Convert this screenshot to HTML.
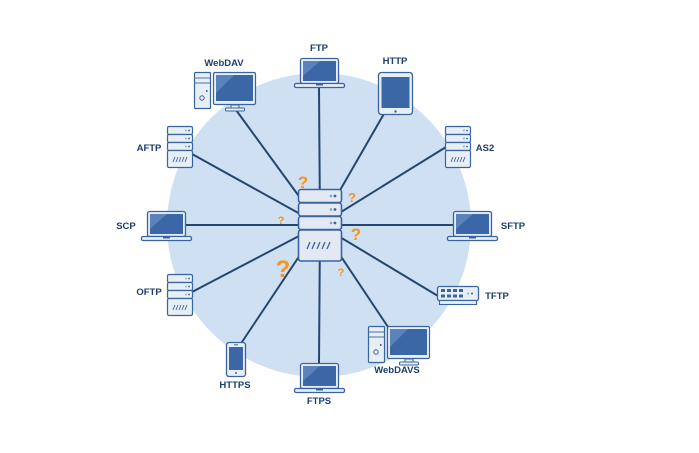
<!DOCTYPE html>
<html><head><meta charset="utf-8"><style>
html,body{margin:0;padding:0;background:#fff;}
svg{display:block;font-family:"Liberation Sans",sans-serif;}
.l{font-size:9.5px;font-weight:bold;fill:#1d3e6e;}
.q{font-weight:bold;fill:#f7941d;font-family:"Liberation Sans",sans-serif;}
</style></head><body>
<svg width="699" height="453" viewBox="0 0 699 453" xmlns="http://www.w3.org/2000/svg">
<defs>
<g id="lap">
 <rect x="0.5" y="0.5" width="38" height="25" rx="2" fill="#e8eef6" stroke="#3a64a0" stroke-width="1.3"/>
 <rect x="3" y="3" width="33" height="20" fill="#3b67a6"/>
 <polygon points="3,3 20,3 3,18" fill="#5a83bb"/>
 <rect x="-5.5" y="25.5" width="50" height="4" rx="1.5" fill="#e8eef6" stroke="#3a64a0" stroke-width="1.3"/>
 <rect x="16" y="26" width="7" height="1.5" fill="#3a64a0"/>
</g>
<g id="srv">
 <rect x="0.5" y="0.5" width="25" height="8" rx="1.5" fill="#e8eef6" stroke="#3a64a0" stroke-width="1.2"/>
 <rect x="0.5" y="8.5" width="25" height="8" rx="1.5" fill="#e8eef6" stroke="#3a64a0" stroke-width="1.2"/>
 <rect x="0.5" y="16.5" width="25" height="8" rx="1.5" fill="#e8eef6" stroke="#3a64a0" stroke-width="1.2"/>
 <rect x="0.5" y="24.5" width="25" height="17" rx="1.5" fill="#e8eef6" stroke="#3a64a0" stroke-width="1.2"/>
 <circle cx="19" cy="4.5" r="0.9" fill="#8aa5cc"/><circle cx="22" cy="4.5" r="0.9" fill="#3a64a0"/>
 <circle cx="19" cy="12.5" r="0.9" fill="#8aa5cc"/><circle cx="22" cy="12.5" r="0.9" fill="#3a64a0"/>
 <circle cx="19" cy="20.5" r="0.9" fill="#8aa5cc"/><circle cx="22" cy="20.5" r="0.9" fill="#3a64a0"/>
 <path d="M6,36 l2,-5 M9,36 l2,-5 M12,36 l2,-5 M15,36 l2,-5 M18,36 l2,-5" stroke="#3a64a0" stroke-width="0.9"/>
</g>
<g id="pc">
 <rect x="0.5" y="0.5" width="16" height="36" rx="1" fill="#e8eef6" stroke="#3a64a0" stroke-width="1.2"/>
 <line x1="1" y1="6" x2="16" y2="6" stroke="#3a64a0" stroke-width="0.9"/>
 <line x1="1" y1="11" x2="16" y2="11" stroke="#3a64a0" stroke-width="0.9"/>
 <circle cx="8" cy="26" r="2.2" fill="none" stroke="#3a64a0" stroke-width="1"/>
 <rect x="12" y="18" width="1.5" height="2" fill="#3a64a0"/>
 <rect x="19.5" y="0.5" width="42" height="32" rx="1.5" fill="#e8eef6" stroke="#3a64a0" stroke-width="1.2"/>
 <rect x="22" y="3" width="37" height="26" fill="#3b67a6"/>
 <polygon points="22,3 40,3 22,21" fill="#5a83bb"/>
 <rect x="37" y="33" width="8" height="3" fill="#e8eef6" stroke="#3a64a0" stroke-width="1"/>
 <rect x="31.5" y="36" width="19" height="3" rx="1" fill="#e8eef6" stroke="#3a64a0" stroke-width="1"/>
</g>
</defs>
<circle cx="319" cy="225" r="152" fill="#cfe0f2"/>
<g stroke="#25466f" stroke-width="2">
 <line x1="320" y1="225" x2="319" y2="88"/>
 <line x1="320" y1="225" x2="236" y2="110"/>
 <line x1="320" y1="225" x2="385" y2="112"/>
 <line x1="320" y1="225" x2="192" y2="154"/>
 <line x1="320" y1="225" x2="446" y2="147"/>
 <line x1="320" y1="225" x2="160" y2="225"/>
 <line x1="320" y1="225" x2="470" y2="225"/>
 <line x1="320" y1="225" x2="192" y2="292"/>
 <line x1="320" y1="225" x2="438" y2="296"/>
 <line x1="320" y1="225" x2="240" y2="345"/>
 <line x1="320" y1="225" x2="319" y2="364"/>
 <line x1="320" y1="225" x2="390" y2="330"/>
</g>
<!-- central server -->
<g transform="translate(298,189)">
 <rect x="0.5" y="0.5" width="43" height="13" rx="2.5" fill="#e3e9f3" stroke="#3a64a0" stroke-width="1.6"/>
 <rect x="0.5" y="14" width="43" height="13" rx="2.5" fill="#e3e9f3" stroke="#3a64a0" stroke-width="1.6"/>
 <rect x="0.5" y="27.5" width="43" height="13" rx="2.5" fill="#e3e9f3" stroke="#3a64a0" stroke-width="1.6"/>
 <rect x="0.5" y="41" width="43" height="31" rx="2.5" fill="#e3e9f3" stroke="#3a64a0" stroke-width="1.6"/>
 <circle cx="33" cy="7" r="1.4" fill="#8aa5cc"/><circle cx="37" cy="7" r="1.4" fill="#3a64a0"/>
 <circle cx="33" cy="20.5" r="1.4" fill="#8aa5cc"/><circle cx="37" cy="20.5" r="1.4" fill="#3a64a0"/>
 <circle cx="33" cy="34" r="1.4" fill="#8aa5cc"/><circle cx="37" cy="34" r="1.4" fill="#3a64a0"/>
 <path d="M9,60 l3,-7 M14,60 l3,-7 M19,60 l3,-7 M24,60 l3,-7 M29,60 l3,-7" stroke="#3a64a0" stroke-width="1.3"/>
</g>
<!-- laptops -->
<use href="#lap" x="300" y="58"/>
<use href="#lap" x="453" y="211"/>
<use href="#lap" x="147" y="211"/>
<use href="#lap" x="300" y="363"/>
<!-- servers -->
<use href="#srv" x="167" y="126"/>
<use href="#srv" x="445" y="126"/>
<use href="#srv" x="167" y="274"/>
<!-- pcs -->
<use href="#pc" x="194" y="72"/>
<use href="#pc" x="368" y="326"/>
<!-- tablet -->
<g transform="translate(378,72)">
 <rect x="0.5" y="0.5" width="34" height="42" rx="3" fill="#e8eef6" stroke="#3a64a0" stroke-width="1.3"/>
 <rect x="3.5" y="5" width="28" height="31" fill="#3b67a6"/>
 <circle cx="17.5" cy="39.5" r="1.2" fill="#3a64a0"/>
</g>
<!-- phone -->
<g transform="translate(226,342)">
 <rect x="0.5" y="0.5" width="19" height="34" rx="2.5" fill="#e8eef6" stroke="#3a64a0" stroke-width="1.3"/>
 <rect x="3" y="5" width="14" height="23" fill="#3b67a6"/>
 <rect x="8" y="2.3" width="4" height="1" fill="#3a64a0"/>
 <circle cx="10" cy="31" r="1" fill="#3a64a0"/>
</g>
<!-- switch -->
<g transform="translate(437,286)">
 <rect x="0.5" y="0.5" width="41" height="14" rx="2" fill="#e8eef6" stroke="#3a64a0" stroke-width="1.3"/>
 <rect x="2.5" y="14.5" width="37" height="4" fill="#e8eef6" stroke="#3a64a0" stroke-width="1.1"/>
 <g fill="#3a64a0">
  <rect x="4" y="3" width="4" height="3"/><rect x="10" y="3" width="4" height="3"/><rect x="16" y="3" width="4" height="3"/><rect x="22" y="3" width="4" height="3"/>
  <rect x="4" y="8.5" width="4" height="3"/><rect x="10" y="8.5" width="4" height="3"/><rect x="16" y="8.5" width="4" height="3"/><rect x="22" y="8.5" width="4" height="3"/>
  <circle cx="35" cy="7.5" r="1"/>
 </g>
 <circle cx="31" cy="7.5" r="1" fill="#8aa5cc"/>
</g>
<!-- labels -->
<g class="l" text-anchor="middle">
 <text x="319" y="51">FTP</text>
 <text x="224" y="66">WebDAV</text>
 <text x="395" y="64">HTTP</text>
 <text x="149" y="151">AFTP</text>
 <text x="485" y="151">AS2</text>
 <text x="126" y="229">SCP</text>
 <text x="513" y="229">SFTP</text>
 <text x="149" y="295">OFTP</text>
 <text x="497" y="299">TFTP</text>
 <text x="235" y="388">HTTPS</text>
 <text x="397" y="373">WebDAVS</text>
 <text x="319" y="404">FTPS</text>
</g>
<!-- question marks -->
<text class="q" x="303" y="188" font-size="17" text-anchor="middle">?</text>
<text class="q" x="352" y="202" font-size="13" text-anchor="middle">?</text>
<text class="q" x="281" y="224" font-size="11" text-anchor="middle">?</text>
<text class="q" x="356" y="240" font-size="17" text-anchor="middle">?</text>
<text class="q" x="283" y="277" font-size="24" text-anchor="middle">?</text>
<text class="q" x="341" y="276" font-size="11" text-anchor="middle">?</text>
</svg>
</body></html>
